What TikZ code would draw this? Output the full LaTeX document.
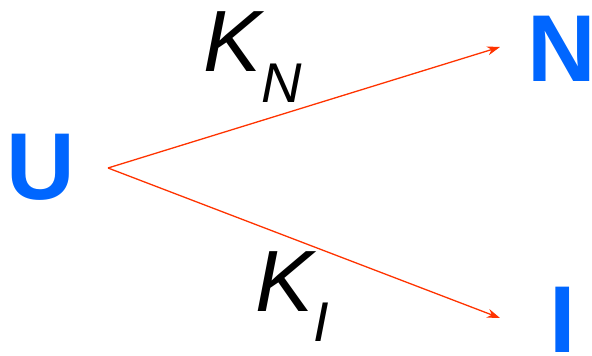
\documentclass[tikz,border=0pt]{standalone}
\usepackage{fontspec}
\setmainfont{Liberation Sans}
\usepackage{tikz}
\usetikzlibrary{arrows.meta,positioning,calc}
\definecolor{StateBlue}{HTML}{0066FF}
\definecolor{RateRed}{HTML}{FF3300}

\begin{document}
\begin{tikzpicture}[
  x=1pt,y=1pt,
  state/.style={inner sep=0pt,anchor=base,text=StateBlue,
                text height=0.72em,text depth=0pt,
                font=\fontsize{95}{95}\selectfont\bfseries},
  rate/.style={inner sep=0pt,anchor=base west,
               font=\fontsize{87}{87}\selectfont\itshape},
  arr/.style={-{Stealth[length=13pt,width=9pt]},line width=1.3pt,RateRed}
]
  \useasboundingbox (0,0) rectangle (592,356);
  % states
  \node[state] (U) at (40.5,156) {U};
  \node[state] (N) at (561.5,274) {N};
  \node[state] (I) at (563,3) {I};

  % arrow ends
  \coordinate (fork) at ($(U.base)+(67.5,32)$);
  \coordinate (tipN) at ($(N.base)+(-61.5,35)$);
  \coordinate (tipI) at ($(I.base)+(-63,35)$);

  \draw[arr] (fork) -- (tipN);
  \draw[arr] (fork) -- (tipI);

  % rate constants
  \node[rate] (KN) at (203,284)
    {K\raisebox{-31pt}{\fontsize{56}{56}\selectfont N}};
  \node[rate] (KI) at (255,44)
    {K\raisebox{-30pt}{\fontsize{56}{56}\selectfont I}};
\end{tikzpicture}
\end{document}
